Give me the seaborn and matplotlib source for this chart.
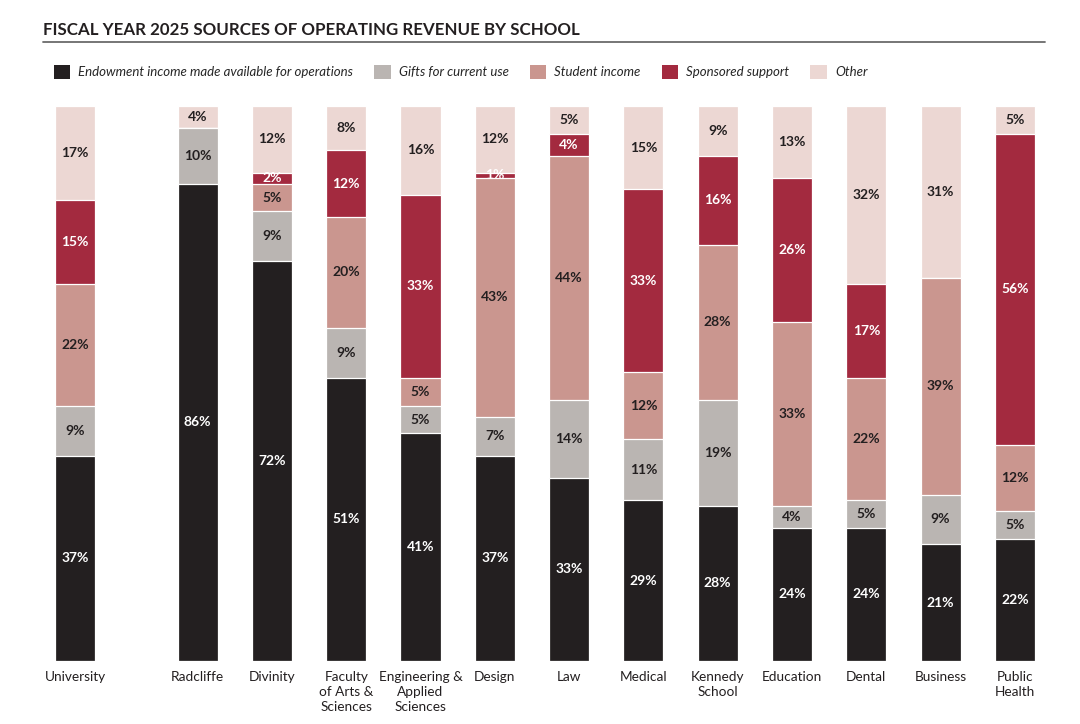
import matplotlib
matplotlib.use("Agg")
import matplotlib.pyplot as plt
import matplotlib.patches as mpatches
from matplotlib.lines import Line2D
import numpy as np
import pandas as pd
import seaborn as sns

# schools, left to right (University is set apart from the rest)
schools = ["University", "Radcliffe", "Divinity", "Faculty\nof Arts &\nSciences",
           "Engineering &\nApplied\nSciences", "Design", "Law", "Medical",
           "Kennedy\nSchool", "Education", "Dental", "Business", "Public\nHealth"]
positions = [0, 1.65, 2.65, 3.65, 4.65, 5.65, 6.65, 7.65, 8.65, 9.65, 10.65, 11.65, 12.65]

# shares in percent, bottom to top
endowment = [37, 86, 72, 51, 41, 37, 33, 29, 28, 24, 24, 21, 22]
gifts     = [9, 10, 9, 9, 5, 7, 14, 11, 19, 4, 5, 9, 5]
student   = [22, 0, 5, 20, 5, 43, 44, 12, 28, 33, 22, 39, 12]
sponsored = [15, 0, 2, 12, 33, 1, 4, 33, 16, 26, 17, 0, 56]
other     = [17, 4, 12, 8, 16, 12, 5, 15, 9, 13, 32, 31, 5]

sources = ["Endowment income made available for operations", "Gifts for current use",
           "Student income", "Sponsored support", "Other"]
colors = ["#231f20", "#bab5b2", "#ca968f", "#a32a3f", "#ecd7d3"]
label_colors = ["white", "#231f20", "#231f20", "white", "#231f20"]

df = pd.DataFrame({"pos": positions, "school": schools})
layers = [endowment, gifts, student, sponsored, other]
for name, vals in zip(sources, layers):
    df[name] = vals
cum = df[sources].cumsum(axis=1)

sns.set_theme(style="white")
plt.rcParams["font.family"] = ["Lato", "DejaVu Sans"]

fig = plt.figure(figsize=(10.8, 7.24), dpi=100)
ppu = 74.3  # pixels per x unit
ax = fig.add_axes([(75 - 0.5 * ppu) / 1080, 63 / 724, 13.65 * ppu / 1080, 555 / 724])

# draw the stacks back to front: each layer is the running total
for i in range(len(sources) - 1, -1, -1):
    sns.barplot(x=df["pos"], y=cum[sources[i]], native_scale=True, width=0.54,
                color=colors[i], saturation=1, errorbar=None,
                edgecolor="white", linewidth=0.9, ax=ax)

# value labels in the middle of each segment
for i, name in enumerate(sources):
    base = cum[name] - df[name]
    for p, b, v in zip(df["pos"], base, df[name]):
        if v > 0:
            ax.text(p, b + v / 2, f"{v}%", ha="center", va="center",
                    fontsize=10, fontweight="bold", color=label_colors[i])

ax.set_xlim(-0.5, 13.15)
ax.set_ylim(0, 100)
ax.set_xticks(positions)
ax.set_xticklabels(schools, fontsize=9.8, color="#231f20")
for t in ax.get_xticklabels():
    t.set_linespacing(1.32)
ax.tick_params(axis="x", length=0, pad=7)
ax.set_yticks([])
ax.set_xlabel("")
ax.set_ylabel("")
sns.despine(ax=ax, left=True, bottom=True)

fig.text(43 / 1080, 1 - 30 / 724, "FISCAL YEAR 2025 SOURCES OF OPERATING REVENUE BY SCHOOL",
         fontsize=12.2, fontweight="bold", color="#231f20", va="center", ha="left")
fig.add_artist(Line2D([43 / 1080, 1045 / 1080], [1 - 41.5 / 724] * 2, color="#6b6b6b", lw=1.3))

handles = [mpatches.Patch(facecolor=c, edgecolor="none", label=s) for c, s in zip(colors, sources)]
fig.legend(handles=handles, loc="center left", bbox_to_anchor=(54 / 1080, 1 - 72 / 724),
           ncol=5, frameon=False, handlelength=1.25, handleheight=1.25, handletextpad=0.6,
           columnspacing=1.6, borderpad=0, borderaxespad=0,
           prop={"style": "italic", "size": 9.5})

fig.savefig("out.png", dpi=100)
